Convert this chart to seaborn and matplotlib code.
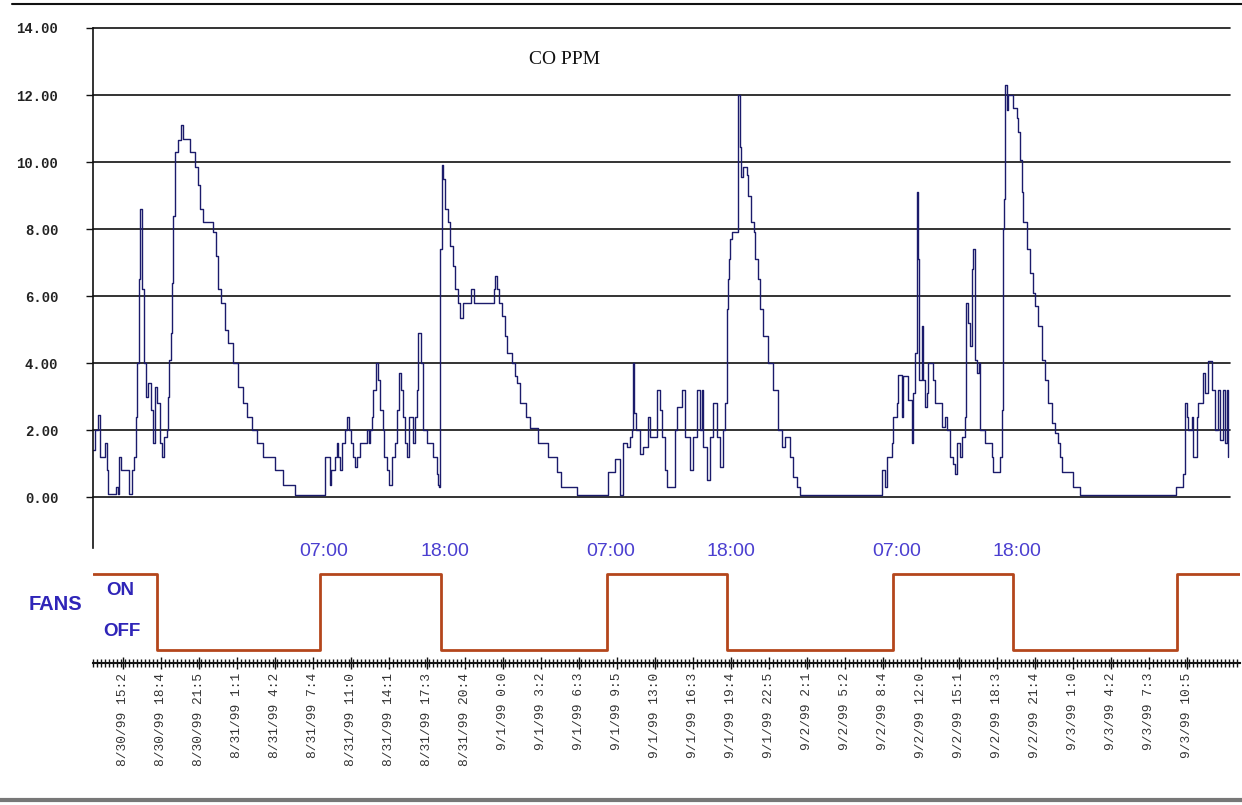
import matplotlib
matplotlib.use('Agg')
import pandas as pd
import numpy as np
import matplotlib.pyplot as plt
import seaborn as sns
from matplotlib.lines import Line2D

# CO readings (x = sample number, about one every 5 minutes)
co_sample = [0, 2, 5, 7, 11, 12, 14, 15, 22, 23, 25, 26, 28, 35, 36, 39, 41, 43, 44, 46,
             47, 49, 51, 53, 55, 58, 60, 62, 64, 67, 69, 71, 74, 75, 76, 78, 79, 80, 82, 85,
             88, 90, 94, 97, 100, 102, 105, 107, 110, 119, 120, 123, 125, 128, 132, 135, 140, 145, 150, 154,
             159, 162, 164, 169, 170, 180, 182, 189, 190, 200, 202, 230,
             232, 235, 237, 238, 242, 244, 245, 247, 249, 252, 254, 256, 258, 260, 262, 264, 267, 270,
             274, 276, 277, 279, 280, 283, 285, 287, 290, 291, 294, 296, 299, 302, 304, 306, 308, 310,
             312, 314, 316, 318, 320, 322, 324, 325, 328, 330, 334, 337, 340, 344, 345, 346, 347, 349,
             350, 352, 355, 357, 360, 362, 365, 367, 369, 370, 377, 378, 380, 381, 400, 401, 402, 404,
             406, 409, 412, 414, 419, 422, 424, 427, 433, 437, 444, 445, 454, 455, 462, 464, 467, 468,
             482, 484, 514,
             515, 520, 522, 526, 527, 530, 534, 537, 539, 540, 541, 543, 547, 550, 555, 557, 562, 564,
             567, 569, 572, 574, 580, 582, 584, 589, 592, 597, 600, 604, 607, 609, 610, 614, 617, 620,
             624, 627, 630, 632, 634, 635, 636, 637, 639, 644, 645, 647, 648, 650, 654, 655, 658, 661,
             662, 665, 667, 670, 675, 680, 685, 689, 692, 697, 700, 704, 707, 787,
             789, 792, 794, 799, 800, 804, 805, 809, 810, 814, 815, 819, 820, 822, 824, 825, 826, 829,
             830, 832, 834, 835, 839, 840, 842, 845, 849, 852, 854, 857, 860, 862, 864, 867, 869, 872,
             873, 875, 877, 879, 880, 882, 884, 886, 887, 890, 892, 895, 899, 900, 905, 907, 909, 910,
             911, 912, 914, 915, 919, 920, 924, 925, 927, 929, 930, 934, 937, 940, 942, 945, 949, 952,
             955, 959, 962, 965, 967, 969, 979, 980, 987, 1082,
             1083, 1089, 1090, 1092, 1094, 1095, 1099, 1100, 1104, 1105, 1109, 1110, 1112, 1115, 1117,
             1119, 1122, 1125, 1127, 1130, 1132, 1134, 1135]
co_ppm = [1.4, 2.0, 2.45, 1.2, 1.2, 1.6, 0.8, 0.1, 0.1, 0.3, 0.1, 1.2, 0.8, 0.8, 0.1, 0.8, 1.2, 2.4, 4.0, 6.5,
          8.6, 6.2, 4.0, 3.0, 3.4, 2.6, 1.6, 3.3, 2.8, 1.6, 1.2, 1.8, 2.0, 3.0, 4.1, 4.9, 6.4, 8.4, 10.3, 10.65,
          11.1, 10.7, 10.7, 10.3, 10.3, 9.85, 9.3, 8.6, 8.2, 8.2, 7.9, 7.2, 6.2, 5.8, 5.0, 4.6, 4.0, 3.3, 2.8, 2.4,
          2.0, 2.0, 1.6, 1.6, 1.2, 1.2, 0.8, 0.8, 0.35, 0.35, 0.07, 0.07,
          1.2, 1.2, 0.35, 0.8, 1.2, 1.6, 1.2, 0.8, 1.6, 2.0, 2.4, 2.0, 1.6, 1.2, 0.9, 1.2, 1.6, 1.6,
          2.0, 1.6, 2.0, 2.4, 3.2, 4.0, 3.5, 2.6, 2.0, 1.2, 0.8, 0.35, 1.2, 1.6, 2.6, 3.7, 3.2, 2.4,
          1.6, 1.2, 2.4, 2.4, 1.6, 2.4, 3.2, 4.9, 4.0, 2.0, 1.6, 1.6, 1.2, 0.7, 0.35, 0.3, 7.4, 9.9,
          9.5, 8.6, 8.2, 7.5, 6.9, 6.2, 5.8, 5.35, 5.35, 5.8, 5.8, 6.2, 6.2, 5.8, 5.8, 6.2, 6.6, 6.2,
          5.8, 5.4, 4.8, 4.3, 4.0, 3.6, 3.4, 2.8, 2.4, 2.05, 2.05, 1.6, 1.6, 1.2, 1.2, 0.75, 0.75, 0.3,
          0.3, 0.07, 0.07,
          0.75, 0.75, 1.15, 1.15, 0.07, 1.6, 1.5, 1.8, 2.0, 4.0, 2.5, 2.0, 1.3, 1.5, 2.4, 1.8, 1.8, 3.2,
          2.6, 1.8, 0.8, 0.3, 0.3, 2.0, 2.7, 3.2, 1.8, 0.8, 1.8, 3.2, 2.0, 3.2, 1.5, 0.5, 1.8, 2.8,
          1.8, 0.9, 2.0, 2.8, 5.6, 6.5, 7.1, 7.7, 7.9, 7.9, 12.0, 10.45, 9.55, 9.85, 9.6, 9.0, 8.2, 7.9,
          7.1, 6.5, 5.6, 4.8, 4.0, 3.2, 2.0, 1.5, 1.8, 1.2, 0.6, 0.3, 0.07, 0.07,
          0.8, 0.3, 1.2, 1.6, 2.4, 2.8, 3.65, 2.4, 3.6, 3.6, 2.9, 1.6, 3.1, 4.3, 9.1, 7.1, 3.5, 5.1,
          3.5, 2.7, 3.1, 4.0, 4.0, 3.5, 2.8, 2.8, 2.1, 2.4, 2.0, 1.2, 1.0, 0.7, 1.6, 1.2, 1.8, 2.4,
          5.8, 5.2, 4.5, 6.8, 7.4, 4.1, 3.7, 4.0, 2.0, 2.0, 1.6, 1.6, 1.2, 0.75, 0.75, 1.2, 2.6, 8.0,
          8.9, 12.3, 11.55, 12.0, 12.0, 11.6, 11.3, 10.9, 10.05, 9.1, 8.2, 7.4, 6.7, 6.1, 5.7, 5.1, 4.1, 3.5,
          2.8, 2.2, 1.9, 1.6, 1.2, 0.75, 0.75, 0.3, 0.07, 0.07,
          0.3, 0.3, 0.7, 2.8, 2.4, 2.0, 2.4, 1.2, 2.4, 2.8, 2.8, 3.7, 3.1, 4.05, 4.05,
          3.2, 2.0, 3.2, 1.7, 3.2, 1.6, 3.2, 1.2]

# fan schedule: 1 = ON, 0 = OFF
fan_sample = [0, 64, 227, 348, 514, 634, 800, 920, 1084, 1147]
fan_state = [1, 0, 1, 0, 1, 0, 1, 0, 1, 1]
switch_sample = [227, 348, 514, 634, 800, 920]
switch_label = ['07:00', '18:00', '07:00', '18:00', '07:00', '18:00']

y_ticks = [0, 2, 4, 6, 8, 10, 12, 14]
y_labels = ['0.00', '2.00', '4.00', '6.00', '8.00', '10.00', '12.00', '14.00']

x_labels = ['8/30/99 15:2', '8/30/99 18:4', '8/30/99 21:5', '8/31/99 1:1', '8/31/99 4:2',
            '8/31/99 7:4', '8/31/99 11:0', '8/31/99 14:1', '8/31/99 17:3', '8/31/99 20:4',
            '9/1/99 0:0', '9/1/99 3:2', '9/1/99 6:3', '9/1/99 9:5', '9/1/99 13:0',
            '9/1/99 16:3', '9/1/99 19:4', '9/1/99 22:5', '9/2/99 2:1', '9/2/99 5:2',
            '9/2/99 8:4', '9/2/99 12:0', '9/2/99 15:1', '9/2/99 18:3', '9/2/99 21:4',
            '9/3/99 1:0', '9/3/99 4:2', '9/3/99 7:3', '9/3/99 10:5']
n_samples = 1147

sns.set_style('white')
plt.rcParams['font.family'] = ['Liberation Sans', 'DejaVu Sans']

W, H = 1242, 805
fig = plt.figure(figsize=(W / 100, H / 100), dpi=100)
ax = fig.add_axes([93 / W, 1 - 548 / H, 1147 / W, 520 / H])
ax_fan = fig.add_axes([93 / W, 1 - 663 / H, 1147 / W, 115 / H])

# CO trace
co = pd.DataFrame({'sample': co_sample, 'ppm': co_ppm})
sns.lineplot(data=co, x='sample', y='ppm', ax=ax, color='#1b1b6b', lw=1.0,
             drawstyle='steps-post', estimator=None, sort=False)
ax.set_xlim(0, n_samples)
ax.set_ylim(-1.52, 14)
for v in y_ticks:
    ax.axhline(v, xmin=0, xmax=0.991, color='#111111', lw=1.2, zorder=0, clip_on=False)
ax.set_yticks(y_ticks, labels=y_labels, fontfamily='Liberation Mono', fontsize=10,
              fontweight='bold', color='#222222')
ax.tick_params(axis='y', length=5, width=1, color='#111111', direction='out', pad=20, left=True)
ax.set_xticks([])
ax.set_xlabel('')
ax.set_ylabel('')
for s in ['top', 'right', 'bottom']:
    ax.spines[s].set_visible(False)
ax.spines['left'].set_color('#111111')
ax.spines['left'].set_linewidth(1.2)
fig.text(565 / W, 1 - 60 / H, 'CO PPM', ha='center', va='center',
         fontfamily='Liberation Serif', fontsize=14, color='#111111')

# fan on/off schedule
fans = pd.DataFrame({'sample': fan_sample, 'state': fan_state})
sns.lineplot(data=fans, x='sample', y='state', ax=ax_fan, color='#b4461c', lw=2,
             drawstyle='steps-post', estimator=None, sort=False)
ax_fan.set_xlim(0, n_samples)
ax_fan.set_ylim(-0.171, 1.342)
ax_fan.set_yticks([])
ax_fan.set_xlabel('')
ax_fan.set_ylabel('')
for s in ['top', 'right', 'left']:
    ax_fan.spines[s].set_visible(False)
ax_fan.spines['bottom'].set_color('#111111')
ax_fan.spines['bottom'].set_linewidth(1.5)
ax_fan.set_facecolor('none')

tick_pos = [30 + 38 * i for i in range(len(x_labels))]
ax_fan.set_xticks(tick_pos, labels=x_labels, rotation=90, fontfamily='Liberation Mono',
                  fontsize=9.3, color='#333333')
ax_fan.set_xticks(np.arange(0, n_samples, 4), minor=True)
ax_fan.tick_params(axis='x', which='major', direction='inout', length=8, width=1,
                   color='#111111', pad=3, bottom=True)
ax_fan.tick_params(axis='x', which='minor', direction='inout', length=6, width=1,
                   color='#111111', bottom=True)

for xs, t in zip(switch_sample, switch_label):
    ax_fan.text(xs + 4, 1.29, t, ha='center', va='center', color='#4b3fd0', fontsize=14)

fig.text(55 / W, 1 - 604 / H, 'FANS', ha='center', va='center', color='#2f25b8',
         fontsize=14.5, fontweight='bold')
fig.text(120 / W, 1 - 590 / H, 'ON', ha='center', va='center', color='#2f25b8',
         fontsize=13.5, fontweight='bold')
fig.text(122 / W, 1 - 632 / H, 'OFF', ha='center', va='center', color='#2f25b8',
         fontsize=13.5, fontweight='bold')

# frame lines at top and bottom of the picture
fig.add_artist(Line2D([12 / W, 1], [1 - 4 / H, 1 - 4 / H], color='#111111', lw=1.5,
                      transform=fig.transFigure))
fig.add_artist(Line2D([0, 1], [1 - 800 / H, 1 - 800 / H], color='#777777', lw=3,
                      transform=fig.transFigure))

fig.savefig('out.png', dpi=100)
